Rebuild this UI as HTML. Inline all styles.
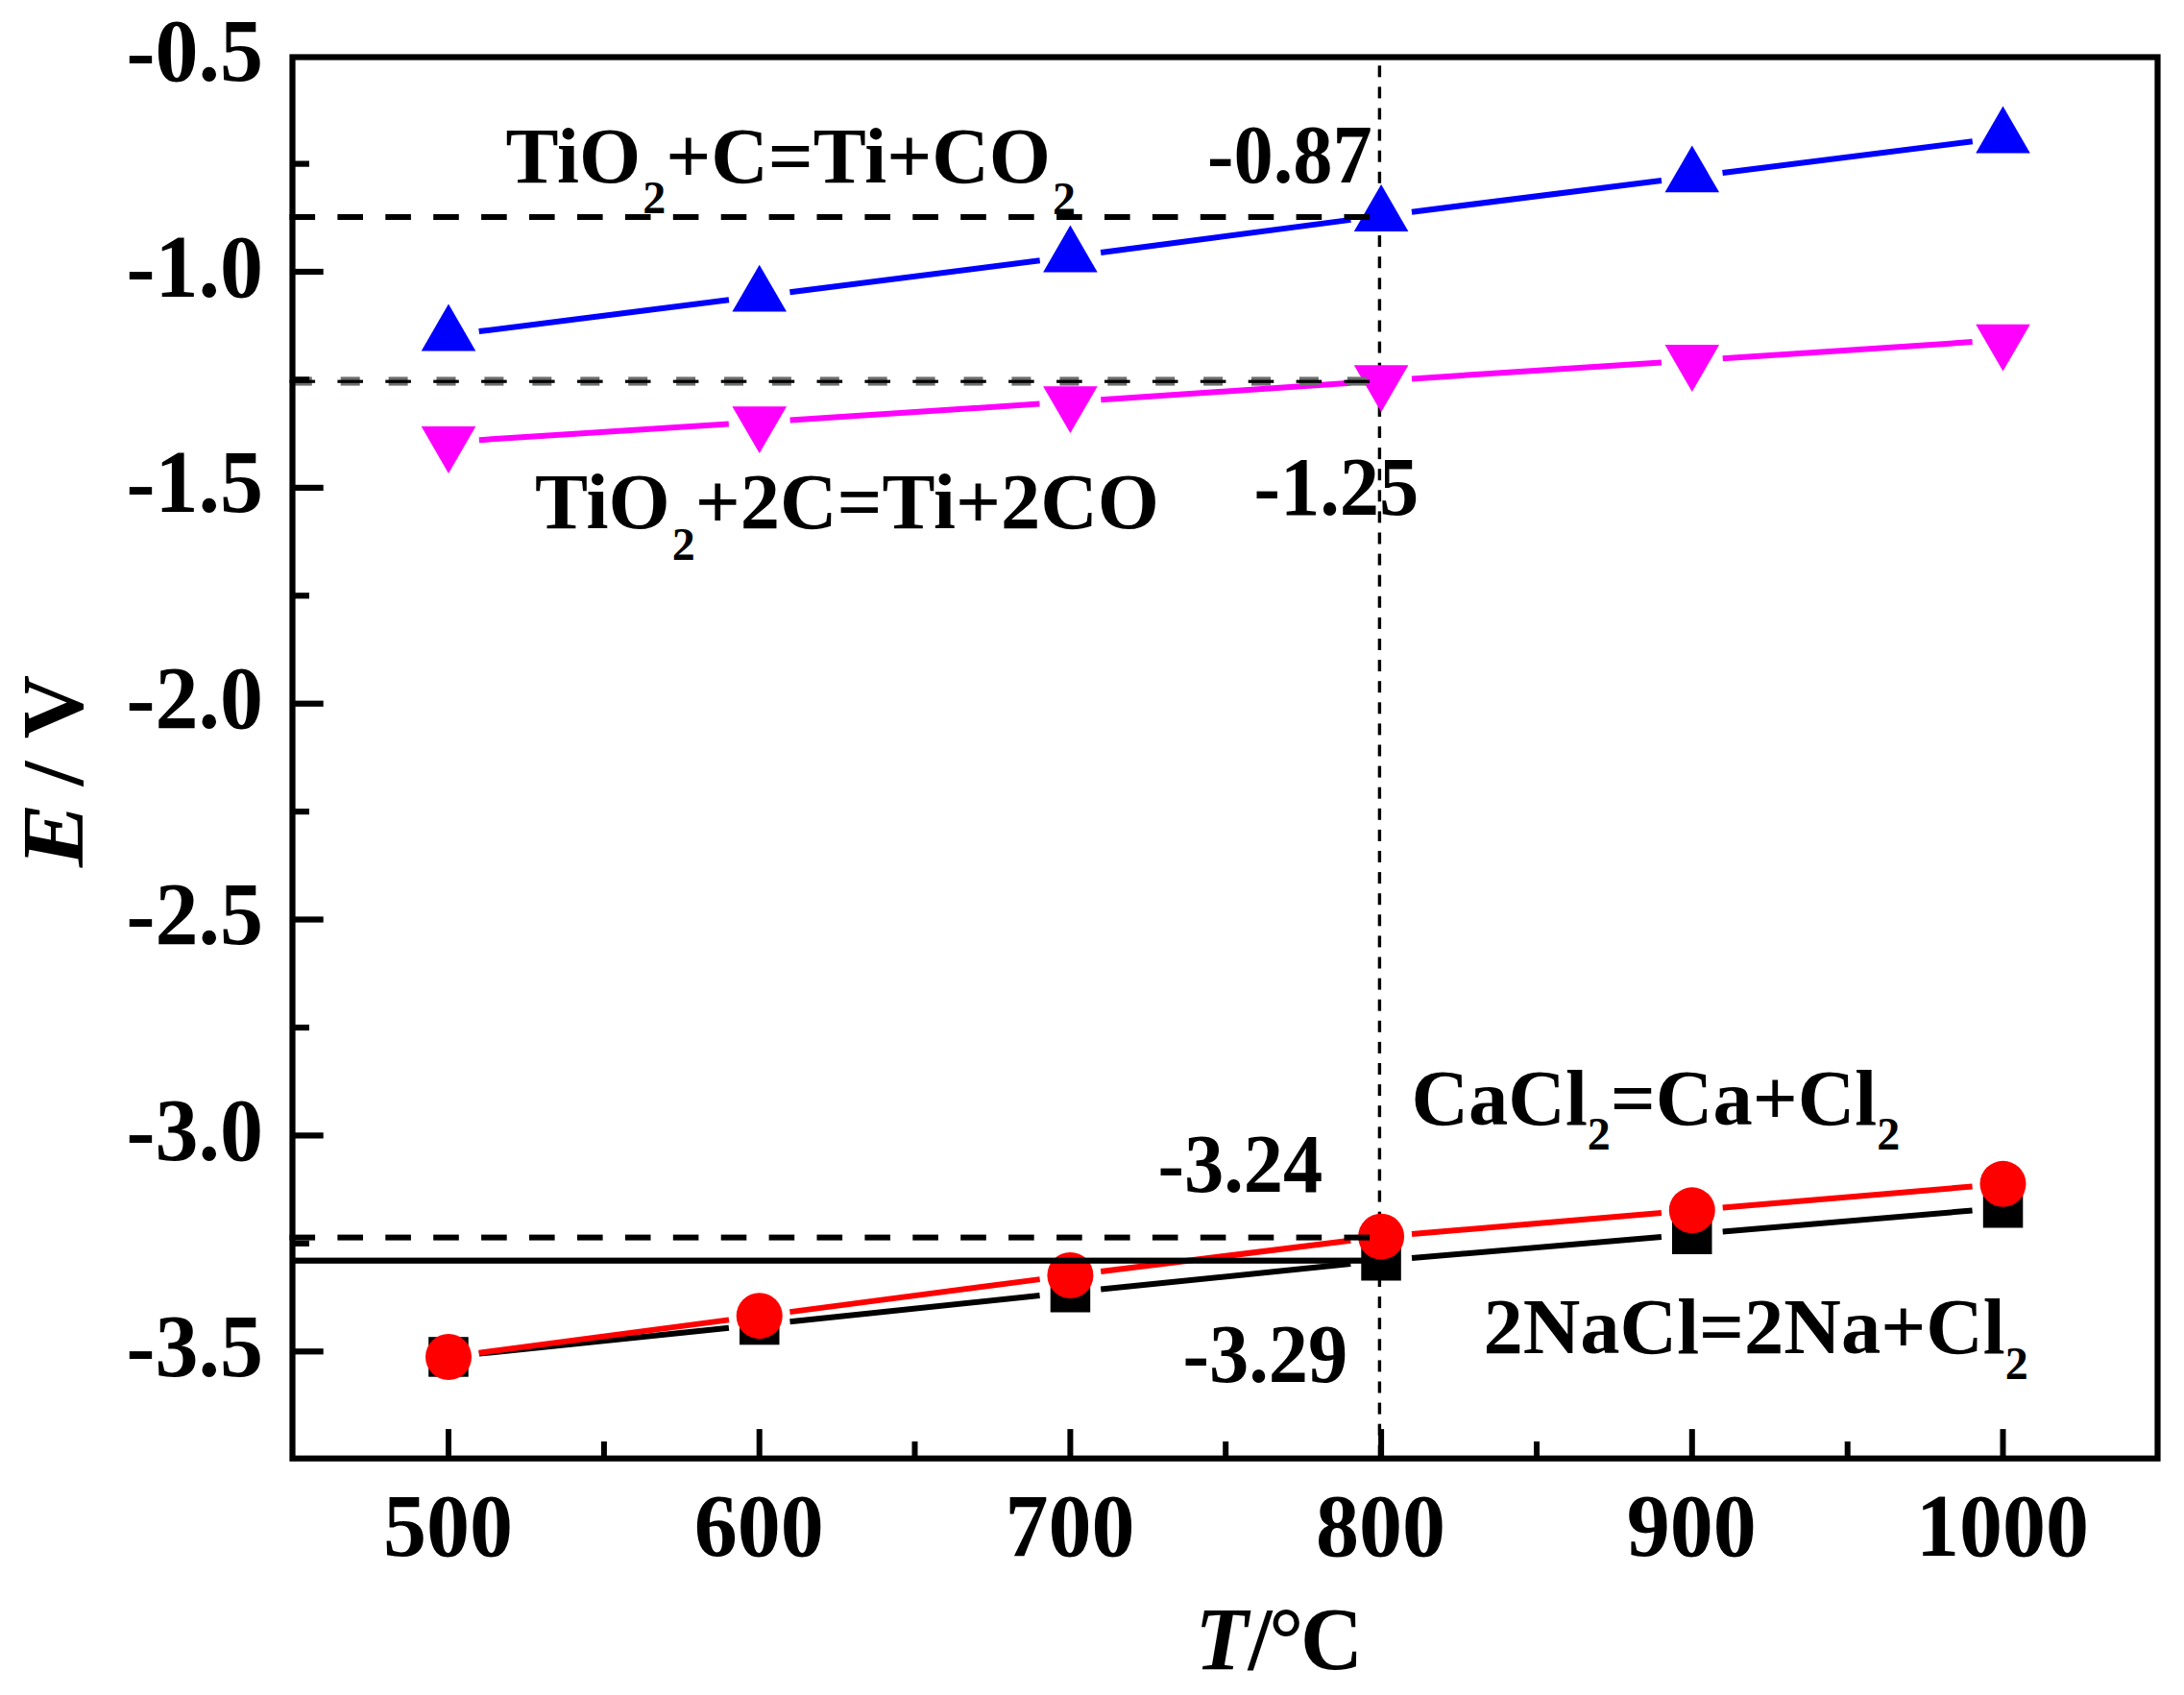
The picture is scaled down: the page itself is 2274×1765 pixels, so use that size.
<!DOCTYPE html>
<html lang="en">
<head>
<meta charset="utf-8">
<title>E vs T</title>
<style>
html,body{margin:0;padding:0;background:#fff;}
body{width:2274px;height:1765px;overflow:hidden;}
svg{display:block;}
text{font-family:"Liberation Serif",serif;font-weight:bold;fill:#000;}
.tk{font-size:90px;}
.an{font-size:82.5px;}
.sb{font-size:48px;}
.it{font-style:italic;}
</style>
</head>
<body>
<svg width="2274" height="1765" viewBox="0 0 2274 1765">
<rect x="0" y="0" width="2274" height="1765" fill="#fff"/>
<g fill="#000"><rect x="1434.7" y="68.3" width="3.4" height="12.0"/><rect x="1434.7" y="90.4" width="3.4" height="12.0"/><rect x="1434.7" y="112.5" width="3.4" height="12.0"/><rect x="1434.7" y="134.6" width="3.4" height="12.0"/><rect x="1434.7" y="156.7" width="3.4" height="12.0"/><rect x="1434.7" y="178.8" width="3.4" height="12.0"/><rect x="1434.7" y="200.9" width="3.4" height="12.0"/><rect x="1434.7" y="223.0" width="3.4" height="12.0"/><rect x="1434.7" y="245.1" width="3.4" height="12.0"/><rect x="1434.7" y="267.2" width="3.4" height="12.0"/><rect x="1434.7" y="289.3" width="3.4" height="12.0"/><rect x="1434.7" y="311.4" width="3.4" height="12.0"/><rect x="1434.7" y="333.5" width="3.4" height="12.0"/><rect x="1434.7" y="355.6" width="3.4" height="12.0"/><rect x="1434.7" y="377.7" width="3.4" height="12.0"/><rect x="1434.7" y="399.8" width="3.4" height="12.0"/><rect x="1434.7" y="421.9" width="3.4" height="12.0"/><rect x="1434.7" y="444.0" width="3.4" height="12.0"/><rect x="1434.7" y="466.1" width="3.4" height="12.0"/><rect x="1434.7" y="488.2" width="3.4" height="12.0"/><rect x="1434.7" y="510.3" width="3.4" height="12.0"/><rect x="1434.7" y="532.4" width="3.4" height="12.0"/><rect x="1434.7" y="554.5" width="3.4" height="12.0"/><rect x="1434.7" y="576.6" width="3.4" height="12.0"/><rect x="1434.7" y="598.7" width="3.4" height="12.0"/><rect x="1434.7" y="620.8" width="3.4" height="12.0"/><rect x="1434.7" y="642.9" width="3.4" height="12.0"/><rect x="1434.7" y="665.0" width="3.4" height="12.0"/><rect x="1434.7" y="687.1" width="3.4" height="12.0"/><rect x="1434.7" y="709.2" width="3.4" height="12.0"/><rect x="1434.7" y="731.3" width="3.4" height="12.0"/><rect x="1434.7" y="753.4" width="3.4" height="12.0"/><rect x="1434.7" y="775.5" width="3.4" height="12.0"/><rect x="1434.7" y="797.6" width="3.4" height="12.0"/><rect x="1434.7" y="819.7" width="3.4" height="12.0"/><rect x="1434.7" y="841.8" width="3.4" height="12.0"/><rect x="1434.7" y="863.9" width="3.4" height="12.0"/><rect x="1434.7" y="886.0" width="3.4" height="12.0"/><rect x="1434.7" y="908.1" width="3.4" height="12.0"/><rect x="1434.7" y="930.2" width="3.4" height="12.0"/><rect x="1434.7" y="952.3" width="3.4" height="12.0"/><rect x="1434.7" y="974.4" width="3.4" height="12.0"/><rect x="1434.7" y="996.5" width="3.4" height="12.0"/><rect x="1434.7" y="1018.6" width="3.4" height="12.0"/><rect x="1434.7" y="1040.7" width="3.4" height="12.0"/><rect x="1434.7" y="1062.8" width="3.4" height="12.0"/><rect x="1434.7" y="1084.9" width="3.4" height="12.0"/><rect x="1434.7" y="1107.0" width="3.4" height="12.0"/><rect x="1434.7" y="1129.1" width="3.4" height="12.0"/><rect x="1434.7" y="1151.2" width="3.4" height="12.0"/><rect x="1434.7" y="1173.3" width="3.4" height="12.0"/><rect x="1434.7" y="1195.4" width="3.4" height="12.0"/><rect x="1434.7" y="1217.5" width="3.4" height="12.0"/><rect x="1434.7" y="1239.6" width="3.4" height="12.0"/><rect x="1434.7" y="1261.7" width="3.4" height="12.0"/><rect x="1434.7" y="1283.8" width="3.4" height="12.0"/><rect x="1434.7" y="1305.9" width="3.4" height="12.0"/><rect x="1434.7" y="1328.0" width="3.4" height="12.0"/><rect x="1434.7" y="1350.1" width="3.4" height="12.0"/><rect x="1434.7" y="1372.2" width="3.4" height="12.0"/><rect x="1434.7" y="1394.3" width="3.4" height="12.0"/><rect x="1434.7" y="1416.4" width="3.4" height="12.0"/><rect x="1434.7" y="1438.5" width="3.4" height="12.0"/><rect x="1434.7" y="1460.6" width="3.4" height="12.0"/><rect x="1434.7" y="1482.7" width="3.4" height="12.0"/><rect x="1434.7" y="1504.8" width="3.4" height="12.0"/></g>
<g stroke="#000" stroke-width="6" fill="none"><line x1="498.8" y1="1409.6" x2="758.9" y2="1382.8"/><line x1="822.5" y1="1376.2" x2="1082.6" y2="1349.1"/><line x1="1146.2" y1="1342.6" x2="1406.3" y2="1316.0"/><line x1="1470.0" y1="1310.1" x2="1729.9" y2="1288.0"/><line x1="1793.7" y1="1282.6" x2="2053.6" y2="1260.5"/></g>
<g fill="#000"><rect x="446.2" y="1392.2" width="41.5" height="41.5"/><rect x="770.0" y="1358.8" width="41.5" height="41.5"/><rect x="1093.7" y="1325.0" width="41.5" height="41.5"/><rect x="1417.3" y="1292.0" width="41.5" height="41.5"/><rect x="1741.0" y="1264.5" width="41.5" height="41.5"/><rect x="2064.8" y="1237.0" width="41.5" height="41.5"/></g>
<g stroke="#ff0000" stroke-width="6" fill="none"><line x1="498.7" y1="1408.8" x2="759.0" y2="1374.4"/><line x1="822.4" y1="1366.1" x2="1082.7" y2="1332.1"/><line x1="1146.2" y1="1324.0" x2="1406.3" y2="1291.7"/><line x1="1470.0" y1="1285.0" x2="1729.9" y2="1263.0"/><line x1="1793.7" y1="1257.6" x2="2053.6" y2="1235.5"/></g>
<g fill="#ff0000"><circle cx="467.0" cy="1413.0" r="24"/><circle cx="790.7" cy="1370.2" r="24"/><circle cx="1114.4" cy="1328.0" r="24"/><circle cx="1438.1" cy="1287.7" r="24"/><circle cx="1761.8" cy="1260.3" r="24"/><circle cx="2085.5" cy="1232.8" r="24"/></g>
<g stroke="#0000ff" stroke-width="6" fill="none"><line x1="498.7" y1="345.1" x2="759.0" y2="312.3"/><line x1="822.4" y1="304.3" x2="1082.7" y2="271.2"/><line x1="1146.1" y1="263.0" x2="1406.4" y2="228.9"/><line x1="1469.9" y1="220.7" x2="1730.0" y2="188.0"/><line x1="1793.5" y1="180.0" x2="2053.8" y2="147.2"/></g>
<g stroke="#ff00ff" stroke-width="6" fill="none"><line x1="498.9" y1="458.2" x2="758.8" y2="441.6"/><line x1="822.6" y1="437.4" x2="1082.5" y2="420.6"/><line x1="1146.3" y1="416.3" x2="1406.2" y2="398.7"/><line x1="1470.0" y1="394.4" x2="1729.9" y2="377.4"/><line x1="1793.7" y1="373.2" x2="2053.6" y2="356.1"/></g>
<g fill="#0000ff"><polygon points="467.0,316.5 438.7,365.4 495.3,365.4"/><polygon points="790.7,275.7 762.4,324.6 819.0,324.6"/><polygon points="1114.4,234.6 1086.1,283.5 1142.7,283.5"/><polygon points="1438.1,192.1 1409.8,241.0 1466.4,241.0"/><polygon points="1761.8,151.4 1733.5,200.3 1790.1,200.3"/><polygon points="2085.5,110.6 2057.2,159.5 2113.8,159.5"/></g>
<g fill="#ff00ff"><polygon points="467.0,492.9 438.7,444.0 495.3,444.0"/><polygon points="790.7,472.1 762.4,423.2 819.0,423.2"/><polygon points="1114.4,451.1 1086.1,402.2 1142.7,402.2"/><polygon points="1438.1,429.1 1409.8,380.2 1466.4,380.2"/><polygon points="1761.8,407.9 1733.5,359.0 1790.1,359.0"/><polygon points="2085.5,386.6 2057.2,337.7 2113.8,337.7"/></g>
<g fill="#000"><rect x="301.5" y="223.0" width="26.6" height="6.0"/><rect x="351.4" y="223.0" width="26.6" height="6.0"/><rect x="401.3" y="223.0" width="26.6" height="6.0"/><rect x="451.2" y="223.0" width="26.6" height="6.0"/><rect x="501.1" y="223.0" width="26.6" height="6.0"/><rect x="551.0" y="223.0" width="26.6" height="6.0"/><rect x="601.0" y="223.0" width="26.6" height="6.0"/><rect x="650.9" y="223.0" width="26.6" height="6.0"/><rect x="700.8" y="223.0" width="26.6" height="6.0"/><rect x="750.7" y="223.0" width="26.6" height="6.0"/><rect x="800.6" y="223.0" width="26.6" height="6.0"/><rect x="850.5" y="223.0" width="26.6" height="6.0"/><rect x="900.4" y="223.0" width="26.6" height="6.0"/><rect x="950.3" y="223.0" width="26.6" height="6.0"/><rect x="1000.2" y="223.0" width="26.6" height="6.0"/><rect x="1050.1" y="223.0" width="26.6" height="6.0"/><rect x="1100.1" y="223.0" width="26.6" height="6.0"/><rect x="1150.0" y="223.0" width="26.6" height="6.0"/><rect x="1199.9" y="223.0" width="26.6" height="6.0"/><rect x="1249.8" y="223.0" width="26.6" height="6.0"/><rect x="1299.7" y="223.0" width="26.6" height="6.0"/><rect x="1349.6" y="223.0" width="26.6" height="6.0"/><rect x="1399.5" y="223.0" width="26.6" height="6.0"/></g>
<g fill="#6b6f6c"><rect x="304.8" y="392.4" width="20.0" height="9.2"/><rect x="354.7" y="392.4" width="20.0" height="9.2"/><rect x="404.6" y="392.4" width="20.0" height="9.2"/><rect x="454.5" y="392.4" width="20.0" height="9.2"/><rect x="504.4" y="392.4" width="20.0" height="9.2"/><rect x="554.3" y="392.4" width="20.0" height="9.2"/><rect x="604.3" y="392.4" width="20.0" height="9.2"/><rect x="654.2" y="392.4" width="20.0" height="9.2"/><rect x="704.1" y="392.4" width="20.0" height="9.2"/><rect x="754.0" y="392.4" width="20.0" height="9.2"/><rect x="803.9" y="392.4" width="20.0" height="9.2"/><rect x="853.8" y="392.4" width="20.0" height="9.2"/><rect x="903.7" y="392.4" width="20.0" height="9.2"/><rect x="953.6" y="392.4" width="20.0" height="9.2"/><rect x="1003.5" y="392.4" width="20.0" height="9.2"/><rect x="1053.4" y="392.4" width="20.0" height="9.2"/><rect x="1103.4" y="392.4" width="20.0" height="9.2"/><rect x="1153.3" y="392.4" width="20.0" height="9.2"/><rect x="1203.2" y="392.4" width="20.0" height="9.2"/><rect x="1253.1" y="392.4" width="20.0" height="9.2"/><rect x="1303.0" y="392.4" width="20.0" height="9.2"/><rect x="1352.9" y="392.4" width="20.0" height="9.2"/><rect x="1402.8" y="392.4" width="20.0" height="9.2"/></g>
<g fill="#000"><rect x="301.5" y="395.6" width="26.6" height="3.2"/><rect x="351.4" y="395.6" width="26.6" height="3.2"/><rect x="401.3" y="395.6" width="26.6" height="3.2"/><rect x="451.2" y="395.6" width="26.6" height="3.2"/><rect x="501.1" y="395.6" width="26.6" height="3.2"/><rect x="551.0" y="395.6" width="26.6" height="3.2"/><rect x="601.0" y="395.6" width="26.6" height="3.2"/><rect x="650.9" y="395.6" width="26.6" height="3.2"/><rect x="700.8" y="395.6" width="26.6" height="3.2"/><rect x="750.7" y="395.6" width="26.6" height="3.2"/><rect x="800.6" y="395.6" width="26.6" height="3.2"/><rect x="850.5" y="395.6" width="26.6" height="3.2"/><rect x="900.4" y="395.6" width="26.6" height="3.2"/><rect x="950.3" y="395.6" width="26.6" height="3.2"/><rect x="1000.2" y="395.6" width="26.6" height="3.2"/><rect x="1050.1" y="395.6" width="26.6" height="3.2"/><rect x="1100.1" y="395.6" width="26.6" height="3.2"/><rect x="1150.0" y="395.6" width="26.6" height="3.2"/><rect x="1199.9" y="395.6" width="26.6" height="3.2"/><rect x="1249.8" y="395.6" width="26.6" height="3.2"/><rect x="1299.7" y="395.6" width="26.6" height="3.2"/><rect x="1349.6" y="395.6" width="26.6" height="3.2"/><rect x="1399.5" y="395.6" width="26.6" height="3.2"/></g>
<g fill="#000"><rect x="301.5" y="1285.6" width="26.6" height="6.0"/><rect x="351.4" y="1285.6" width="26.6" height="6.0"/><rect x="401.3" y="1285.6" width="26.6" height="6.0"/><rect x="451.2" y="1285.6" width="26.6" height="6.0"/><rect x="501.1" y="1285.6" width="26.6" height="6.0"/><rect x="551.0" y="1285.6" width="26.6" height="6.0"/><rect x="601.0" y="1285.6" width="26.6" height="6.0"/><rect x="650.9" y="1285.6" width="26.6" height="6.0"/><rect x="700.8" y="1285.6" width="26.6" height="6.0"/><rect x="750.7" y="1285.6" width="26.6" height="6.0"/><rect x="800.6" y="1285.6" width="26.6" height="6.0"/><rect x="850.5" y="1285.6" width="26.6" height="6.0"/><rect x="900.4" y="1285.6" width="26.6" height="6.0"/><rect x="950.3" y="1285.6" width="26.6" height="6.0"/><rect x="1000.2" y="1285.6" width="26.6" height="6.0"/><rect x="1050.1" y="1285.6" width="26.6" height="6.0"/><rect x="1100.1" y="1285.6" width="26.6" height="6.0"/><rect x="1150.0" y="1285.6" width="26.6" height="6.0"/><rect x="1199.9" y="1285.6" width="26.6" height="6.0"/><rect x="1249.8" y="1285.6" width="26.6" height="6.0"/><rect x="1299.7" y="1285.6" width="26.6" height="6.0"/><rect x="1349.6" y="1285.6" width="26.6" height="6.0"/><rect x="1399.5" y="1285.6" width="26.6" height="6.0"/></g>
<rect x="304" y="1309.6" width="1114.0" height="6.2" fill="#000"/>
<g fill="#000"><rect x="304.5" y="167.5" width="17.5" height="6.2"/><rect x="304.5" y="279.9" width="32.2" height="6.2"/><rect x="304.5" y="392.3" width="17.5" height="6.2"/><rect x="304.5" y="504.8" width="32.2" height="6.2"/><rect x="304.5" y="617.2" width="17.5" height="6.2"/><rect x="304.5" y="729.6" width="32.2" height="6.2"/><rect x="304.5" y="842.0" width="17.5" height="6.2"/><rect x="304.5" y="954.4" width="32.2" height="6.2"/><rect x="304.5" y="1066.9" width="17.5" height="6.2"/><rect x="304.5" y="1179.3" width="32.2" height="6.2"/><rect x="304.5" y="1291.7" width="17.5" height="6.2"/><rect x="304.5" y="1404.2" width="32.2" height="6.2"/><rect x="464.0" y="1488.1" width="6" height="30.6"/><rect x="787.7" y="1488.1" width="6" height="30.6"/><rect x="1111.4" y="1488.1" width="6" height="30.6"/><rect x="1435.1" y="1488.1" width="6" height="30.6"/><rect x="1758.8" y="1488.1" width="6" height="30.6"/><rect x="2082.5" y="1488.1" width="6" height="30.6"/><rect x="625.9" y="1501" width="6" height="17.7"/><rect x="949.5" y="1501" width="6" height="17.7"/><rect x="1273.2" y="1501" width="6" height="17.7"/><rect x="1597.0" y="1501" width="6" height="17.7"/><rect x="1920.7" y="1501" width="6" height="17.7"/></g>
<rect x="304.5" y="59.5" width="1942.0" height="1459.2" fill="none" stroke="#000" stroke-width="6.2"/>
<text class="tk" transform="translate(274.0,84.0) scale(1.000,1.030)" text-anchor="end">-0.5</text>
<text class="tk" transform="translate(274.0,308.5) scale(1.000,1.030)" text-anchor="end">-1.0</text>
<text class="tk" transform="translate(274.0,533.4) scale(1.000,1.030)" text-anchor="end">-1.5</text>
<text class="tk" transform="translate(274.0,758.2) scale(1.000,1.030)" text-anchor="end">-2.0</text>
<text class="tk" transform="translate(274.0,983.0) scale(1.000,1.030)" text-anchor="end">-2.5</text>
<text class="tk" transform="translate(274.0,1207.9) scale(1.000,1.030)" text-anchor="end">-3.0</text>
<text class="tk" transform="translate(274.0,1432.8) scale(1.000,1.030)" text-anchor="end">-3.5</text>
<text class="tk" transform="translate(466.5,1620.0) scale(1.000,1.030)" text-anchor="middle">500</text>
<text class="tk" transform="translate(790.2,1620.0) scale(1.000,1.030)" text-anchor="middle">600</text>
<text class="tk" transform="translate(1113.9,1620.0) scale(1.000,1.030)" text-anchor="middle">700</text>
<text class="tk" transform="translate(1437.6,1620.0) scale(1.000,1.030)" text-anchor="middle">800</text>
<text class="tk" transform="translate(1761.3,1620.0) scale(1.000,1.030)" text-anchor="middle">900</text>
<text class="tk" transform="translate(2085.0,1620.0) scale(1.000,1.030)" text-anchor="middle">1000</text>
<text class="tk it" transform="translate(85.5,903) rotate(-90) scale(1.11,1)">E</text>
<text class="tk" transform="translate(85.5,818.3) rotate(-90) scale(1.02,1)">/<tspan dx="2.3"> V</tspan></text>
<text class="tk" transform="translate(1244.5,1738.2) scale(1.000,1.030)"><tspan class="it">T</tspan>/<tspan dx="-3.2">°</tspan><tspan dx="-3.2">C</tspan></text>
<text class="an" x="526.5" y="189.7">TiO<tspan class="sb" dx="2" dy="32">2</tspan><tspan dy="-32">+C=Ti+CO</tspan><tspan class="sb" dx="2" dy="33">2</tspan></text>
<text class="an" x="557.0" y="550.0">TiO<tspan class="sb" dx="2" dy="33">2</tspan><tspan dy="-33">+2C=Ti+2CO</tspan></text>
<text class="an" transform="translate(1257.0,190.0) scale(1.000,1.040)">-0.87</text>
<text class="an" transform="translate(1305.5,535.5) scale(1.000,1.040)">-1.25</text>
<text class="an" transform="translate(1205.5,1241.0) scale(1.000,1.040)">-3.24</text>
<text class="an" transform="translate(1231.5,1438.5) scale(1.000,1.040)">-3.29</text>
<text class="an" x="1469.5" y="1171.0">CaCl<tspan class="sb" dy="26">2</tspan><tspan dy="-26">=Ca+Cl</tspan><tspan class="sb" dy="26">2</tspan></text>
<text class="an" x="1544.5" y="1409.0">2NaCl=2Na+Cl<tspan class="sb" dy="27">2</tspan></text>
</svg>
</body>
</html>
